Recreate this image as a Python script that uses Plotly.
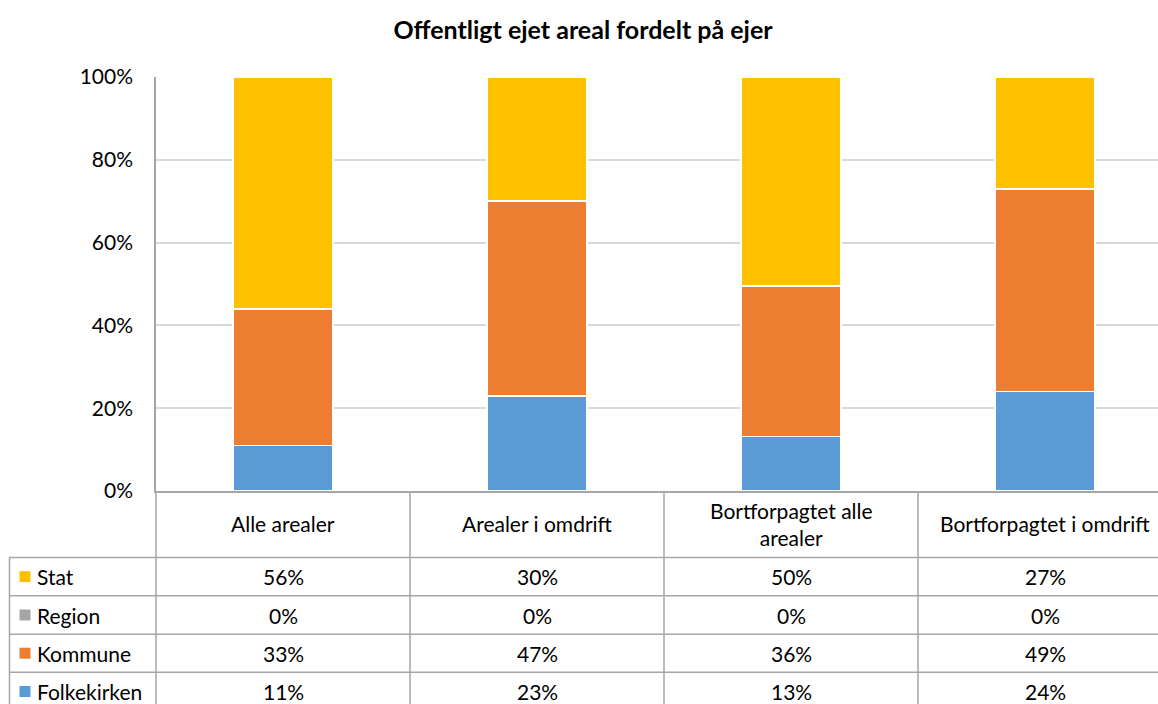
import plotly.graph_objects as go

categories = ["Alle arealer", "Arealer i omdrift", "Bortforpagtet alle arealer", "Bortforpagtet i omdrift"]
header_labels = ["Alle arealer", "Arealer i omdrift", "Bortforpagtet alle<br>arealer", "Bortforpagtet i omdrift"]
series_names = ["Stat", "Region", "Kommune", "Folkekirken"]
stat = [56, 30, 50, 27]
region = [0, 0, 0, 0]
kommune = [33, 47, 36, 49]
folkekirken = [11, 23, 13, 24]
yticks = [0, 20, 40, 60, 80, 100]

colors = {"Stat": "#FFC000", "Region": "#A5A5A5", "Kommune": "#ED7D31", "Folkekirken": "#5B9BD5"}
values = {"Stat": stat, "Region": region, "Kommune": kommune, "Folkekirken": folkekirken}

FONT = "Lato"
FS = 21
OFF = 0  # body margin removed via post_script
W, H = 1158, 704
P_LEFT, P_TOP, P_BOT = 156, 76.5, 491
L = P_LEFT - OFF
T = P_TOP - OFF
B = H - (P_BOT - OFF)
PH = H - T - B
PW = W - L
COLW = 254.0

fig = go.Figure()
for name in ["Folkekirken", "Kommune", "Region", "Stat"]:
    fig.add_trace(go.Bar(
        x=list(range(len(categories))), y=values[name], name=name,
        marker=dict(color=colors[name], line=dict(color="white", width=1.5)),
        width=0.394, showlegend=False,
    ))

def px2x(px):
    return (px - OFF - L) / PW

def py2y(py):
    return (T + PH - (py - OFF)) / PH

line_col = "#A6A6A6"
shapes = []
row_y = [491, 557.5, 596, 634.3, 672.5, 711]
for ry in row_y[1:]:
    shapes.append(dict(type="line", xref="paper", yref="paper", x0=px2x(9.5), x1=px2x(1170),
                       y0=py2y(ry), y1=py2y(ry), line=dict(color=line_col, width=1.5)))
col_x = [P_LEFT + COLW * k for k in range(len(categories) + 1)]
for cx in col_x:
    shapes.append(dict(type="line", xref="paper", yref="paper", x0=px2x(cx), x1=px2x(cx),
                       y0=py2y(491), y1=py2y(715), line=dict(color=line_col, width=1.5)))
shapes.append(dict(type="line", xref="paper", yref="paper", x0=px2x(9.5), x1=px2x(9.5),
                   y0=py2y(557.5), y1=py2y(715), line=dict(color=line_col, width=1.5)))

annotations = []
for i, lab in enumerate(header_labels):
    annotations.append(dict(x=i, xref="x", y=py2y(524), yref="paper", text=lab, showarrow=False,
                            font=dict(family=FONT, size=FS, color="#000"), xanchor="center", yanchor="middle"))
for r, name in enumerate(series_names):
    yc = py2y((row_y[r + 1] + row_y[r + 2]) / 2)
    shapes.append(dict(type="rect", xref="paper", yref="paper", x0=px2x(19.5), x1=px2x(30.5),
                       y0=yc - 5.5 / PH, y1=yc + 5.5 / PH, fillcolor=colors[name], line=dict(width=0)))
    annotations.append(dict(x=px2x(35), xref="paper", y=yc, yref="paper", text=name, showarrow=False,
                            font=dict(family=FONT, size=FS, color="#000"), xanchor="left", yanchor="middle"))
    for i, v in enumerate(values[name]):
        annotations.append(dict(x=i, xref="x", y=yc, yref="paper", text=f"{v}%", showarrow=False,
                                font=dict(family=FONT, size=FS, color="#000"), xanchor="center", yanchor="middle"))

fig.update_layout(
    width=W, height=H,
    margin=dict(l=L, r=0, t=T, b=B, pad=0),
    barmode="stack", barnorm="percent",
    plot_bgcolor="white", paper_bgcolor="white",
    hovermode=False,
    title=dict(text="<b>Offentligt ejet areal fordelt på ejer</b>", x=px2x(583), xref="paper", xanchor="center",
               y=1 - (30 - OFF) / H, yanchor="middle", font=dict(family=FONT, size=25, color="#000")),
    xaxis=dict(range=[-0.5, -0.5 + PW / COLW], showticklabels=False, showgrid=False, zeroline=False,
               showline=True, linecolor=line_col, linewidth=1.5, ticks="", fixedrange=True),
    yaxis=dict(range=[0, 100], tickvals=yticks, ticktext=[f"{t}%" for t in yticks],
               showgrid=True, gridcolor="#D9D9D9", gridwidth=1.5, zeroline=False,
               showline=True, linecolor=line_col, linewidth=1.5, ticks="", fixedrange=True,
               ticklabelstandoff=17, tickfont=dict(family=FONT, size=FS, color="#000")),
    shapes=shapes, annotations=annotations,
)

fig.write_html("out.html", config={"displayModeBar": False},
               post_script="document.body.style.margin='0';document.body.style.overflow='hidden';")
